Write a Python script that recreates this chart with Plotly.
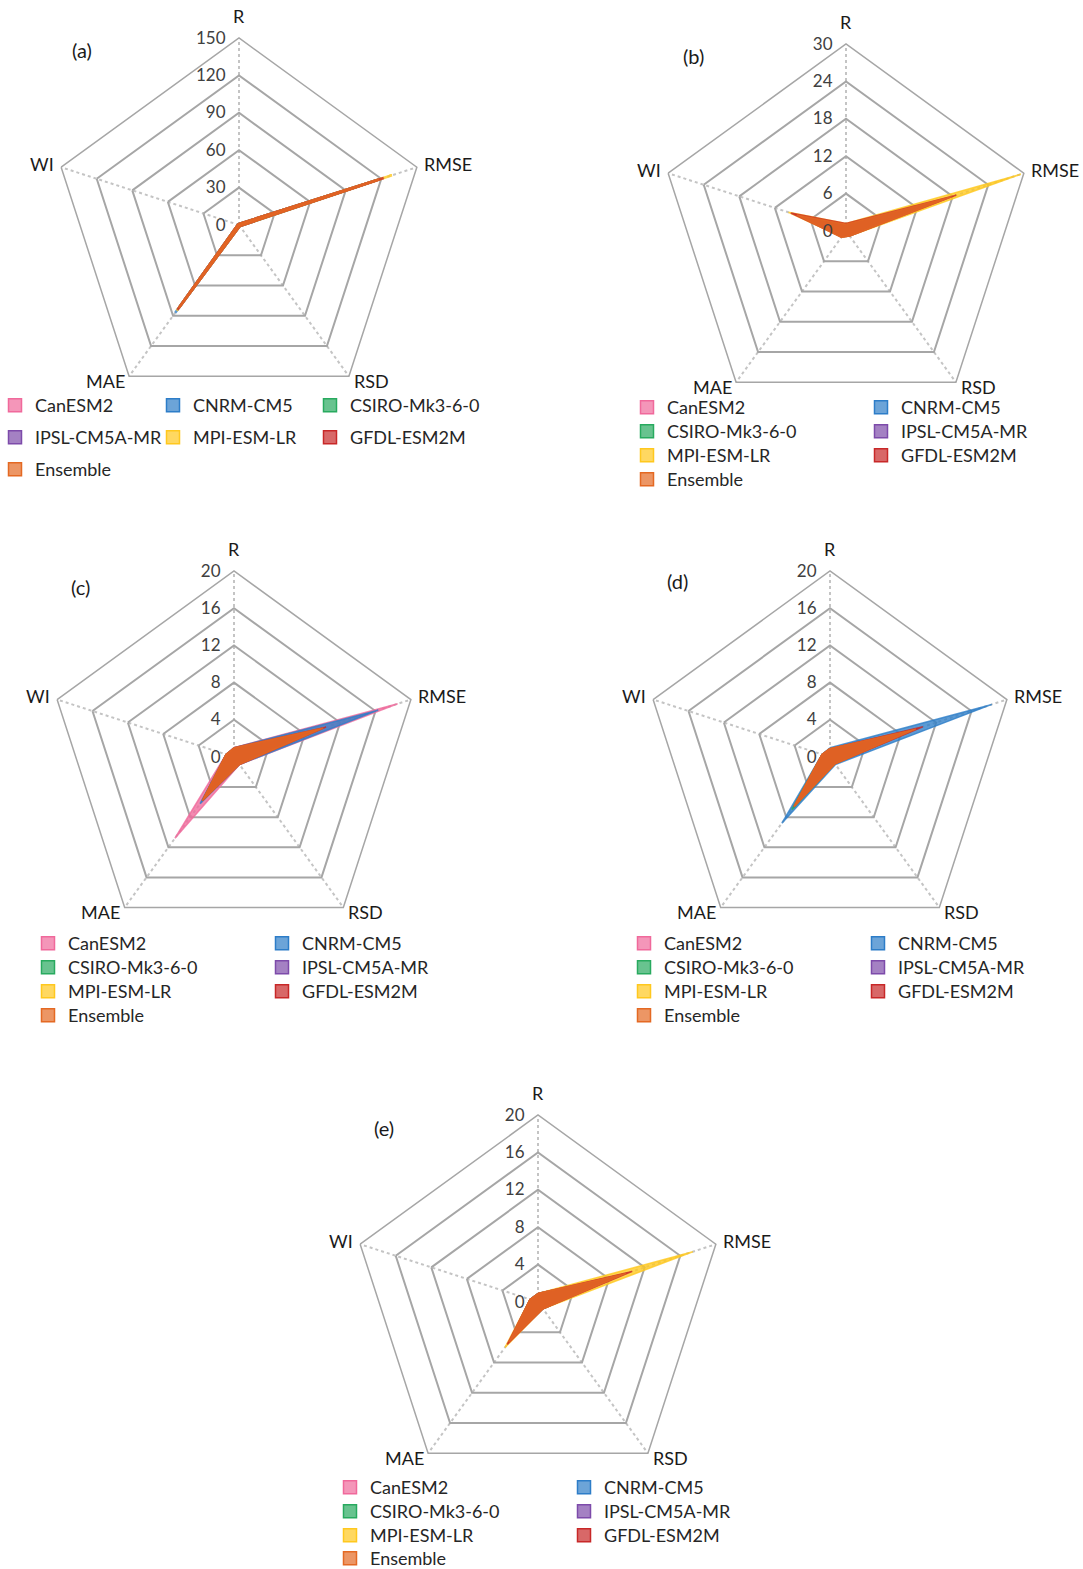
import plotly.graph_objects as go

W, H = 1083, 1569

categories = ["R", "RMSE", "RSD", "MAE", "WI"]
models = ["CanESM2", "CNRM-CM5", "CSIRO-Mk3-6-0", "IPSL-CM5A-MR", "MPI-ESM-LR", "GFDL-ESM2M", "Ensemble"]

# rows follow `models`, columns follow `categories`
values_a = [
    [0.9, 117.0, 1.0, 80.0, 0.8],
    [0.9, 119.0, 1.1, 87.0, 0.8],
    [0.9, 116.0, 1.0, 81.0, 0.8],
    [0.9, 118.0, 1.0, 82.0, 0.8],
    [0.9, 129.0, 1.1, 85.0, 0.8],
    [0.9, 122.0, 1.0, 84.0, 0.8],
    [0.9, 118.0, 1.0, 82.0, 0.8],
]
values_b = [
    [0.9, 16.5, 0.9, 1.1, 7.5],
    [0.9, 17.0, 1.0, 1.2, 7.8],
    [0.9, 16.0, 0.9, 1.1, 7.2],
    [0.9, 17.2, 0.9, 1.2, 8.0],
    [1.2, 29.5, 1.0, 1.2, 9.7],
    [1.2, 18.6, 1.0, 1.2, 9.3],
    [1.1, 17.8, 1.0, 1.3, 8.3],
]
values_c = [
    [1.0, 18.5, 1.0, 10.8, 0.9],
    [1.0, 16.3, 1.0, 6.2, 0.9],
    [0.9, 9.5, 0.9, 5.5, 0.9],
    [0.9, 10.0, 0.9, 5.6, 0.9],
    [0.9, 9.8, 0.9, 5.6, 0.9],
    [1.0, 10.4, 1.0, 5.8, 0.9],
    [1.0, 10.1, 1.0, 5.8, 0.9],
]
values_d = [
    [0.9, 9.0, 0.9, 6.2, 0.9],
    [1.0, 18.3, 1.0, 8.8, 0.9],
    [0.9, 9.5, 0.9, 7.0, 0.9],
    [0.9, 9.8, 0.9, 6.4, 0.9],
    [0.9, 9.6, 0.9, 6.5, 0.9],
    [0.9, 10.5, 0.9, 6.6, 0.9],
    [0.9, 9.7, 0.9, 6.6, 0.9],
]
values_e = [
    [0.9, 9.5, 0.9, 5.0, 0.9],
    [0.9, 9.8, 0.9, 5.2, 0.9],
    [0.9, 9.2, 0.9, 5.0, 0.9],
    [0.9, 9.6, 0.9, 5.1, 0.9],
    [0.9, 17.4, 0.9, 6.0, 0.9],
    [0.9, 10.6, 0.9, 5.6, 0.9],
    [0.9, 9.9, 0.9, 5.3, 0.9],
]

panel_labels = ["(a)", "(b)", "(c)", "(d)", "(e)"]
radial_max = [150, 30, 20, 20, 20]
radial_step = [30, 6, 4, 4, 4]

base_rgb = [
    (240, 105, 155),
    (45, 125, 200),
    (40, 170, 95),
    (125, 75, 170),
    (255, 200, 30),
    (200, 40, 40),
    (228, 105, 35),
]

# layout geometry (pixels)
centers = [(239, 225), (846, 231), (234, 757), (830, 757), (538, 1302)]
radii = [187, 187, 186, 186, 187]
edge_width = [2.5, 1.5, 1.5, 1.5, 1.5]
label_pos = [(82, 50), (693, 56), (80, 587), (677, 581), (384, 1128)]
# offsets of the category labels from the chart centre (pixels), in `categories` order
cat_label_offsets = [(0, -209), (209, -61), (132, 156), (-134, 156), (-197, -61)]

# legend swatch centres per panel, in `models` order
legend_xy = [
    [(19, 405), (177, 405), (334, 405), (19, 437), (177, 437), (334, 437), (19, 469)],
    [(651, 407), (885, 407), (651, 431), (885, 431), (651, 455), (885, 455), (651, 479)],
    [(52, 943), (286, 943), (52, 967), (286, 967), (52, 991), (286, 991), (52, 1015)],
    [(648, 943), (882, 943), (648, 967), (882, 967), (648, 991), (882, 991), (648, 1015)],
    [(354, 1487), (588, 1487), (354, 1511), (588, 1511), (354, 1535), (588, 1535), (354, 1558)],
]

all_values = [values_a, values_b, values_c, values_d, values_e]

fig = go.Figure()
layout = dict(
    width=W, height=H,
    margin=dict(l=0, r=0, t=0, b=0, autoexpand=False),
    paper_bgcolor="white",
    plot_bgcolor="white",
    font=dict(family="Lato, Liberation Sans, sans-serif", color="#262626"),
    annotations=[],
)

def rgba(c, a):
    return f"rgba({c[0]},{c[1]},{c[2]},{a})"

legend_count = 0
for p in range(5):
    pid = "polar" if p == 0 else f"polar{p+1}"
    cx, cy = centers[p]
    r = radii[p]
    layout[pid] = dict(
        domain=dict(x=[(cx - r) / W, (cx + r) / W], y=[1 - (cy + r) / H, 1 - (cy - r) / H]),
        gridshape="linear",
        bgcolor="white",
        angularaxis=dict(
            type="category", categoryorder="array", categoryarray=categories,
            rotation=90, direction="clockwise",
            showline=True, linecolor="#A6A6A6", linewidth=1.5,
            showgrid=True, gridcolor="#C4C4C4", griddash="dot", gridwidth=2,
            ticks="", showticklabels=False,
        ),
        radialaxis=dict(
            range=[0, radial_max[p]], tick0=0, dtick=radial_step[p],
            showline=False, ticks="outside", ticklen=7, tickcolor="rgba(0,0,0,0)",
            angle=90, side="counterclockwise", tickangle=90,
            showgrid=True, gridcolor="#A6A6A6", gridwidth=1.5,
            tickfont=dict(size=17, color="#404040"),
        ),
    )
    vals = all_values[p]
    for m in range(len(models)):
        rr = list(vals[m]) + [vals[m][0]]
        th = categories + [categories[0]]
        fig.add_trace(go.Scatterpolar(
            r=rr, theta=th, subplot=pid, mode="lines", fill="toself",
            fillcolor=rgba(base_rgb[m], 0.78),
            line=dict(color=rgba(base_rgb[m], 0.78), width=edge_width[p]),
            showlegend=False, hoverinfo="skip", name=models[m],
        ))
    # legend entries (one small legend per entry, placed like the original)
    for m in range(len(models)):
        sx, sy = legend_xy[p][m]
        legend_count += 1
        lid = "legend" if legend_count == 1 else f"legend{legend_count}"
        layout[lid] = dict(
            x=(sx - 24) / W, y=1 - (sy - 18) / H, xanchor="left", yanchor="top",
            bgcolor="rgba(0,0,0,0)", font=dict(size=18, color="#262626"),
        )
        fig.add_trace(go.Scatterpolar(
            r=[None], theta=[categories[0]], subplot=pid, mode="markers",
            marker=dict(symbol="square", size=13, color=rgba(base_rgb[m], 0.7),
                        line=dict(color=rgba(base_rgb[m], 1.0), width=1.5)),
            name=models[m], legend=lid, showlegend=True,
        ))
    # category labels around the chart
    for k, cat in enumerate(categories):
        ox, oy = cat_label_offsets[k]
        layout["annotations"].append(dict(
            text=cat, x=(cx + ox * r / 187) / W, y=1 - (cy + oy * r / 187) / H,
            xref="paper", yref="paper", showarrow=False,
            font=dict(size=18, color="#1a1a1a"), xanchor="center", yanchor="middle",
        ))
    lx, ly = label_pos[p]
    layout["annotations"].append(dict(
        text=panel_labels[p], x=lx / W, y=1 - ly / H, xref="paper", yref="paper",
        showarrow=False, font=dict(size=20, color="#1a1a1a"), xanchor="center", yanchor="middle",
    ))

fig.update_layout(**layout)
fig.write_html("out.html", config={"displayModeBar": False},
               post_script="document.body.style.margin='0px';")
